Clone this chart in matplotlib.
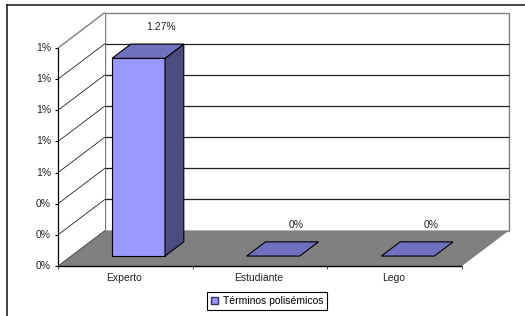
import matplotlib
matplotlib.use('Agg')
import matplotlib.pyplot as plt
from matplotlib.patches import Polygon, Patch
from matplotlib.lines import Line2D

categories = ['Experto', 'Estudiante', 'Lego']
values = [1.27, 0.0, 0.0]  # percent
value_labels = ['1.27%', '0%', '0%']
y_ticks = [0, 0.2, 0.4, 0.6, 0.8, 1.0, 1.2, 1.4]
series_name = 'Términos polisémicos'

plt.rcParams['font.family'] = ['Liberation Sans', 'DejaVu Sans']
plt.rcParams['font.size'] = 7.5

W, H = 525, 316
fig = plt.figure(figsize=(W / 100, H / 100), dpi=100)
ax = fig.add_axes([0, 0, 1, 1])

# front plane in pixels, depth offset in pixels
X0, X1 = 58, 462
Y0, Y1 = 266, 48
DXP, DYP = 47, 35.5
ncat = len(categories)
ymax = y_ticks[-1]
cat_px = (X1 - X0) / ncat
pct_px = (Y0 - Y1) / ymax

ax.set_xlim(-X0 / cat_px, (W - X0) / cat_px)
ax.set_ylim((Y0 - H) / pct_px, Y0 / pct_px)
ax.axis('off')
DX = DXP / cat_px
DY = DYP / pct_px


def P(x, y, d):
    return (x + d * DX, y + d * DY)


def poly(pts, fc, ec='black', lw=0.8, z=1):
    ax.add_patch(Polygon(pts, closed=True, facecolor=fc, edgecolor=ec, linewidth=lw, zorder=z))


def seg(a, b, color='black', lw=0.8, z=2):
    ax.plot([a[0], b[0]], [a[1], b[1]], color=color, lw=lw, zorder=z, solid_capstyle='butt')


# walls and floor
poly([P(0, 0, 1), P(ncat, 0, 1), P(ncat, ymax, 1), P(0, ymax, 1)], 'white', ec='#808080', lw=1.0)
poly([P(0, 0, 0), P(0, 0, 1), P(0, ymax, 1), P(0, ymax, 0)], 'white', ec='none')
poly([P(0, 0, 0), P(ncat, 0, 0), P(ncat, 0, 1), P(0, 0, 1)], '#808080', ec='none', z=1.5)

for t in y_ticks[1:-1]:
    seg(P(0, t, 1), P(ncat, t, 1), color='#202020', lw=0.9)
    seg(P(0, t, 0), P(0, t, 1), color='#202020', lw=0.6)
seg(P(0, ymax, 0), P(0, ymax, 1), color='#909090', lw=1.2)
seg(P(0, 0, 0), P(0, 0, 1), color='#404040', lw=0.6)

# front value axis
seg(P(0, 0, 0), P(0, ymax, 0), lw=0.9, z=3)
tk_x = 3 / cat_px
for t in y_ticks:
    seg((-tk_x, t), (0, t), lw=0.8, z=3)
    ax.annotate(f'{t:.0f}%', xy=(0, t), xytext=(-5, 0), textcoords='offset points',
                ha='right', va='center', color='#222222')

# category axis
seg(P(0, 0, 0), P(ncat, 0, 0), lw=1.0, z=3)
tk_y = 3 / pct_px
for i in range(ncat + 1):
    seg((i, 0), (i, -tk_y), color='#555555', lw=0.8, z=3)
for i, c in enumerate(categories):
    ax.annotate(c, xy=(i + 0.5, 0), xytext=(-1, -8.6), textcoords='offset points',
                ha='center', va='center', color='#222222')

# bars
bw = 53 / cat_px
d0, d1 = 0.28, 0.68
for i, (v, lab) in enumerate(zip(values, value_labels)):
    xa, xb = i + 0.5 - bw / 2, i + 0.5 + bw / 2
    if v > 0:
        poly([P(xa, 0, d0), P(xb, 0, d0), P(xb, v, d0), P(xa, v, d0)], '#9999FF', z=4)
        poly([P(xb, 0, d0), P(xb, 0, d1), P(xb, v, d1), P(xb, v, d0)], '#4C4C80', z=4)
    poly([P(xa, v, d0), P(xb, v, d0), P(xb, v, d1), P(xa, v, d1)], '#7070C0', z=4)
    ax.annotate(lab, xy=P(i + 0.5, v, d1), xytext=(3, 12.2), textcoords='offset points',
                ha='center', va='center', color='#222222')

# outer chart border
fig.add_artist(Line2D([7 / W, 7 / W], [0, 1 - 5 / H], color='#111111', lw=1.1))
fig.add_artist(Line2D([7 / W, 1], [1 - 5 / H, 1 - 5 / H], color='#111111', lw=1.1))

leg = fig.legend(handles=[Patch(facecolor='#9999FF', edgecolor='#333366', label=series_name)],
                 loc='center', bbox_to_anchor=(267 / W, 1 - 301 / H), frameon=True,
                 fancybox=False, edgecolor='black', framealpha=1, handlelength=0.7,
                 handleheight=0.7, handletextpad=0.5, borderpad=0.35)
leg.get_frame().set_linewidth(0.8)

fig.savefig('out.png', dpi=100)
